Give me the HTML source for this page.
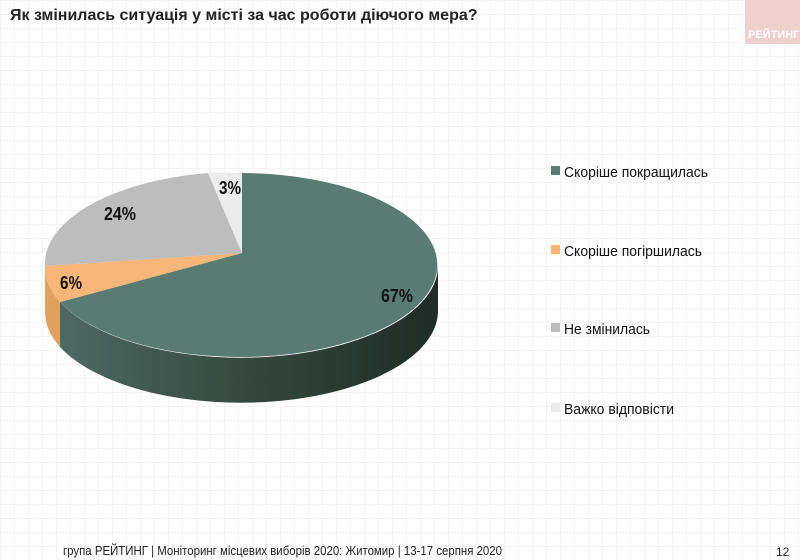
<!DOCTYPE html>
<html><head><meta charset="utf-8"><style>
html,body{margin:0;padding:0}
body{width:800px;height:560px;position:relative;overflow:hidden;font-family:"Liberation Sans",sans-serif;
background-color:#fff;
background-image:linear-gradient(#f4f4f4 1px,transparent 1px),linear-gradient(90deg,#f4f4f4 1px,transparent 1px);
background-size:14px 14px}
.t{position:absolute;white-space:nowrap}
</style></head><body>
<div class="t" style="left:10px;top:7px;font-size:16px;font-weight:bold;color:#222">Як змінилась ситуація у місті за час роботи діючого мера?</div>
<div style="position:absolute;left:745px;top:0;width:55px;height:44px;background:#f0d0cc"></div>
<div class="t" style="left:748px;top:29px;font-size:11px;font-weight:bold;color:#fff">РЕЙТИНГ</div>
<svg width="800" height="560" style="position:absolute;left:0;top:0">
<defs>
<linearGradient id="g" x1="0" x2="1" y1="0" y2="0">
<stop offset="0" stop-color="#4d6a62"/><stop offset="0.5" stop-color="#34483f"/><stop offset="1" stop-color="#1f2c27"/></linearGradient>
</defs>
<path d="M45,266 A197 92 0 0 0 60,302 L60,347 A197 92 0 0 1 45,311 Z" fill="#e0a060"/>
<path d="M60,302 A197 92 0 0 0 438,265 L438,310 A197 92 0 0 1 60,347 Z" fill="url(#g)"/>
<path d="M242,253 L242,173 A197 92 0 1 1 60,302 Z" fill="#5a7b72"/>
<path d="M242,253 L60,302 A197 92 0 0 1 45,266 Z" fill="#f9b678"/>
<path d="M242,253 L45,266 A197 92 0 0 1 208,173 Z" fill="#bdbdbd"/>
<path d="M242,253 L208,173 A197 92 0 0 1 242,173 Z" fill="#ececec"/>
<g font-family="Liberation Sans" font-weight="bold" font-size="18" fill="#111">
<text x="219" y="194" textLength="22" lengthAdjust="spacingAndGlyphs">3%</text>
<text x="104" y="220" textLength="32" lengthAdjust="spacingAndGlyphs">24%</text>
<text x="60" y="289" textLength="22" lengthAdjust="spacingAndGlyphs">6%</text>
<text x="381" y="302" textLength="32" lengthAdjust="spacingAndGlyphs">67%</text>
</g>
<g font-family="Liberation Sans" font-size="15" fill="#111">
<rect x="551" y="166" width="9" height="9" fill="#5a7b72"/><text x="564" y="177" textLength="144" lengthAdjust="spacingAndGlyphs">Скоріше покращилась</text>
<rect x="551" y="245" width="9" height="9" fill="#f9b678"/><text x="564" y="256" textLength="138" lengthAdjust="spacingAndGlyphs">Скоріше погіршилась</text>
<rect x="551" y="323" width="9" height="9" fill="#bdbdbd"/><text x="564" y="334" textLength="86" lengthAdjust="spacingAndGlyphs">Не змінилась</text>
<rect x="551" y="403" width="9" height="9" fill="#ececec"/><text x="564" y="414" textLength="110" lengthAdjust="spacingAndGlyphs">Важко відповісти</text>
</g>
<text x="63" y="555" font-family="Liberation Sans" font-size="13" fill="#222" textLength="439" lengthAdjust="spacingAndGlyphs">група РЕЙТИНГ | Моніторинг місцевих виборів 2020: Житомир | 13-17 серпня 2020</text>
</svg>
<div class="t" style="left:776px;top:545px;font-size:12px;color:#222">12</div>
</body></html>
